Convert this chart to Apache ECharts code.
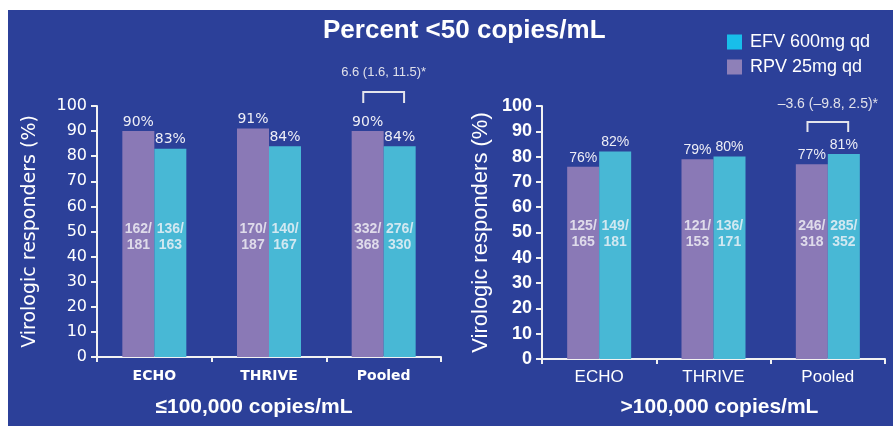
<!DOCTYPE html>
<html>
<head>
<meta charset="utf-8">
<script src="https://cdn.jsdelivr.net/npm/echarts@6/dist/echarts.min.js"></script>
<style>
  html, body { margin: 0; padding: 0; background: #ffffff; }
  #chart { width: 893px; height: 426px; }
</style>
</head>
<body>
<div id="chart"></div>
<script>
// ---- data ----
const categories = ['ECHO', 'THRIVE', 'Pooled'];
const rpvLow = [90, 91, 90];
const efvLow = [83, 84, 84];
const rpvHigh = [76, 79, 77];
const efvHigh = [82, 80, 81];
const rpvLowN = ['162/181', '170/187', '332/368'];
const efvLowN = ['136/163', '140/167', '276/330'];
const rpvHighN = ['125/165', '121/153', '246/318'];
const efvHighN = ['149/181', '136/171', '285/352'];
const diffLow = ['6.6 (1.6, 11.5)*'];
const diffHigh = ['\u20133.6 (\u20139.8, 2.5)*'];
const yMin = 0, yMax = 100, yInterval = 10;
const titleText = 'Percent <50 copies/mL';
const groupLow = '\u2264100,000 copies/mL';
const groupHigh = '>100,000 copies/mL';
const yName = 'Virologic responders (%)';
const nameRPV = 'RPV 25mg qd';
const nameEFV = 'EFV 600mg qd';

// ---- styles ----
const BG = '#2c4099';
const PURPLE = '#8a79b6';
const CYAN = '#48b8d5';
const AXIS = '#f2f2f2';
const FL = 'DejaVu Sans';
const FR = 'Liberation Sans';

function yAxisCfg(gi, font, labelSize, labelWeight, nameSize, nameGap) {
  return {
    gridIndex: gi, type: 'value', min: yMin, max: yMax, interval: yInterval,
    name: yName, nameLocation: 'middle', nameGap: nameGap,
    nameTextStyle: { color: '#ffffff', fontFamily: font, fontSize: nameSize },
    axisLine: { show: true, lineStyle: { color: AXIS, width: 2 } },
    axisTick: { show: true, length: 6, lineStyle: { color: AXIS, width: 2 } },
    splitLine: { show: false },
    axisLabel: { color: '#ffffff', fontFamily: font, fontSize: labelSize, fontWeight: labelWeight, margin: 10 }
  };
}
function xAxisCfg(gi, font, labelSize, labelWeight, name, nameGap, namePad, labelMargin) {
  return {
    gridIndex: gi, type: 'category', data: categories,
    name: name, nameLocation: 'middle', nameGap: nameGap,
    nameTextStyle: { color: '#ffffff', fontFamily: FR, fontSize: 21, fontWeight: 'bold', padding: namePad },
    axisLine: { show: true, lineStyle: { color: AXIS, width: 2 } },
    axisTick: { show: true, length: 5, lineStyle: { color: AXIS, width: 2 } },
    axisLabel: { color: '#ffffff', fontFamily: font, fontSize: labelSize, fontWeight: labelWeight, margin: labelMargin }
  };
}
function barSeries(name, data, color, gi, font) {
  return {
    type: 'bar', name: name, data: data, xAxisIndex: gi, yAxisIndex: gi,
    barWidth: 32, barGap: '0%',
    itemStyle: { color: color },
    label: { show: true, position: 'top', distance: 2, formatter: '{c}%',
      color: '#eeeef6', fontFamily: font, fontSize: 14 }
  };
}
function fracSeries(fracs, gi, level, dx) {
  return {
    type: 'scatter', xAxisIndex: gi, yAxisIndex: gi, symbolSize: 1,
    itemStyle: { color: 'rgba(0,0,0,0)' }, silent: true,
    data: fracs.map((f, i) => [i, level]),
    label: { show: true, position: 'inside', offset: [dx, 0],
      formatter: p => fracs[p.dataIndex].replace('/', '/\n'),
      color: '#f4f4f8', fontFamily: FR, fontWeight: 'bold', fontSize: 14, lineHeight: 16 }
  };
}
function bracketSeries(gi, texts, row, fontSize) {
  return {
    type: 'custom', xAxisIndex: gi, yAxisIndex: gi, clip: false, silent: true,
    data: [row],
    renderItem: function (params, api) {
      const x = api.value(0);
      const top = api.coord([x, api.value(1)]);
      const bot = api.coord([x, api.value(2)]);
      const txt = api.coord([x, api.value(3)]);
      const w = api.size([1, 0])[0] * 0.178;
      return {
        type: 'group',
        children: [
          { type: 'polyline', shape: { points: [[top[0] - w, bot[1]], [top[0] - w, top[1]], [top[0] + w, top[1]], [top[0] + w, bot[1]]] },
            style: { stroke: '#e4e4ec', lineWidth: 2, fill: null } },
          { type: 'text', x: txt[0], y: txt[1],
            style: { text: texts[params.dataIndex], fill: '#e0e0ea', font: fontSize + 'px "Liberation Sans"', align: 'center', verticalAlign: 'middle' } }
        ]
      };
    }
  };
}

const chart = echarts.init(document.getElementById('chart'), null, { renderer: 'canvas' });
chart.setOption({
  animation: false,
  backgroundColor: '#ffffff',
  graphic: [{ type: 'rect', z: -100, shape: { x: 8, y: 10, width: 885, height: 416 }, style: { fill: BG } }],
  title: { text: titleText, left: 323, top: 18, padding: 0,
    textStyle: { color: '#ffffff', fontFamily: FR, fontWeight: 'bold', fontSize: 26 } },
  legend: {
    orient: 'vertical', left: 722, top: 28, itemGap: 7, itemWidth: 15, itemHeight: 15, icon: 'rect',
    data: [{ name: nameEFV, itemStyle: { color: '#18beea' } }, { name: nameRPV, itemStyle: { color: '#8e80b8' } }],
    textStyle: { color: '#ffffff', fontFamily: FR, fontSize: 18, padding: [0, 0, 0, 3] }
  },
  grid: [
    { left: 97, top: 106, width: 344, height: 251 },
    { left: 542, top: 106, width: 343, height: 253 }
  ],
  xAxis: [
    xAxisCfg(0, FL, 14, 'bold', groupLow, 40, [0, 30, 0, 0], 12),
    xAxisCfg(1, FR, 17, 'normal', groupHigh, 38, [0, 0, 0, 12], 10)
  ],
  yAxis: [
    yAxisCfg(0, FL, 16, 'normal', 19, 57),
    yAxisCfg(1, FR, 18, 'bold', 22, 50)
  ],
  series: [
    barSeries(nameRPV, rpvLow, PURPLE, 0, FL),
    barSeries(nameEFV, efvLow, CYAN, 0, FL),
    barSeries(nameRPV, rpvHigh, PURPLE, 1, FR),
    barSeries(nameEFV, efvHigh, CYAN, 1, FR),
    fracSeries(rpvLowN, 0, 47.8, -16),
    fracSeries(efvLowN, 0, 47.8, 16),
    fracSeries(rpvHighN, 1, 49.4, -16),
    fracSeries(efvHighN, 1, 49.4, 16),
    bracketSeries(0, diffLow, [2, 105.6, 101.2, 113.2], 13),
    bracketSeries(1, diffHigh, [2, 93.7, 89.7, 100.6], 14)
  ]
});
</script>
</body>
</html>
